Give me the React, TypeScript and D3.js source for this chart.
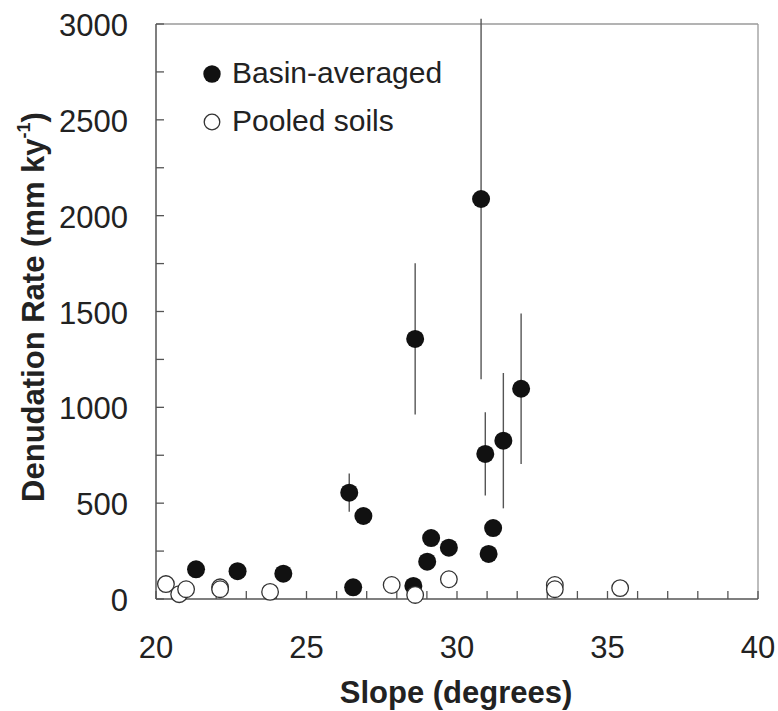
import React from "react";
import * as d3 from "d3";

const basinSlope = [21.33, 22.71, 24.23, 26.42, 26.55, 26.89, 28.55, 28.61, 29.01, 29.14, 29.73, 30.8, 30.94, 31.05, 31.2, 31.54, 32.13];
const basinRate = [155, 145, 132, 555, 61, 433, 68, 1357, 195, 318, 268, 2087, 757, 235, 370, 826, 1097];
const basinErr = [0, 0, 0, 100, 0, 0, 0, 395, 0, 0, 0, 940, 217, 0, 0, 353, 392];

const soilSlope = [20.33, 20.77, 21.0, 22.13, 22.13, 23.79, 27.83, 28.61, 29.73, 33.25, 33.25, 35.42];
const soilRate = [78, 25, 51, 61, 51, 37, 73, 21, 103, 73, 51, 57];

const xTickLabels = [20, 25, 30, 35, 40];
const yTickLabels = [0, 500, 1000, 1500, 2000, 2500, 3000];

const W = 778;
const H = 711;
const L = 156, R = 758, T = 24, B = 599;
const FONT = "'Liberation Sans', Arial, Helvetica, sans-serif";

export default function App() {
  const x = d3.scaleLinear().domain([20, 40]).range([L, R]);
  const y = d3.scaleLinear().domain([0, 3000]).range([B, T]);
  const xMinor = d3.range(20, 41, 1);
  const yMinor = d3.range(0, 3001, 250);

  return (
    <svg width={W} height={H} style={{ position: "absolute", left: 0, top: 0, background: "#fff" }} fontFamily={FONT}>
      {/* frame: top/right light */}
      <line x1={L} y1={T} x2={R} y2={T} stroke="#9a9a9a" strokeWidth={1.3} />
      <line x1={R} y1={T} x2={R} y2={B} stroke="#9a9a9a" strokeWidth={1.3} />
      {/* minor ticks */}
      {xMinor.map((v) => (
        <line key={"xt" + v} x1={x(v)} x2={x(v)} y1={B} y2={B - 8} stroke="#555" strokeWidth={1.3} />
      ))}
      {yMinor.map((v) => (
        <line key={"yt" + v} x1={L} x2={L + 8} y1={y(v)} y2={y(v)} stroke="#555" strokeWidth={1.3} />
      ))}
      {/* axes */}
      <line x1={L} y1={T} x2={L} y2={B} stroke="#555" strokeWidth={1.5} />
      <line x1={L} y1={B} x2={R} y2={B} stroke="#555" strokeWidth={1.5} />

      {/* tick labels */}
      {xTickLabels.map((v) => (
        <text key={"xl" + v} x={x(v)} y={658} fontSize={31} textAnchor="middle" fill="#222">
          {v}
        </text>
      ))}
      {yTickLabels.map((v) => (
        <text key={"yl" + v} x={128} y={y(v) + 12} fontSize={31} textAnchor="end" fill="#222">
          {v}
        </text>
      ))}

      {/* axis titles */}
      <text x={456} y={703} fontSize={31} fontWeight="bold" textAnchor="middle" fill="#222">
        Slope (degrees)
      </text>
      <text transform="translate(44,307) rotate(-90)" fontSize={31} fontWeight="bold" textAnchor="middle" fill="#222">
        Denudation Rate (mm ky
        <tspan fontSize={18} dy={-14}>-1</tspan>
        <tspan dy={14}>)</tspan>
      </text>

      {/* error bars */}
      {basinSlope.map((s, i) =>
        basinErr[i] > 0 ? (
          <line key={"e" + i} x1={x(s)} x2={x(s)} y1={y(basinRate[i] - basinErr[i])} y2={y(basinRate[i] + basinErr[i])} stroke="#555" strokeWidth={1.4} />
        ) : null
      )}

      {/* basin-averaged */}
      {basinSlope.map((s, i) => (
        <circle key={"b" + i} cx={x(s)} cy={y(basinRate[i])} r={9} fill="#111" />
      ))}
      {/* pooled soils */}
      {soilSlope.map((s, i) => (
        <circle key={"s" + i} cx={x(s)} cy={y(soilRate[i])} r={8.3} fill="#fff" stroke="#333" strokeWidth={1.3} />
      ))}

      {/* legend */}
      <circle cx={212} cy={74} r={8.7} fill="#111" />
      <text x={232} y={83} fontSize={30} fill="#222">Basin-averaged</text>
      <circle cx={212} cy={122} r={7.8} fill="#fff" stroke="#333" strokeWidth={1.3} />
      <text x={232} y={131} fontSize={30} fill="#222">Pooled soils</text>
    </svg>
  );
}
